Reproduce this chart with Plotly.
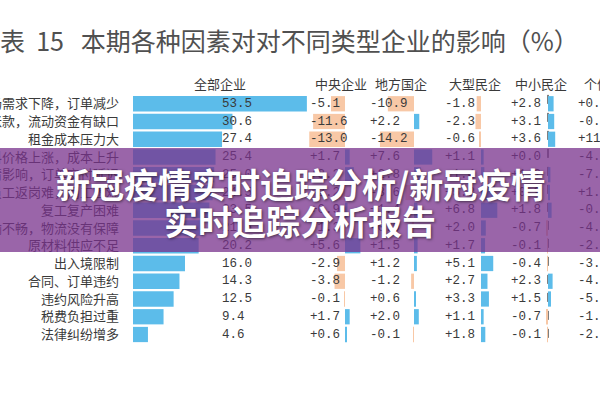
import plotly.graph_objects as go

# ---------------- data ----------------
rows = ["市场需求下降，订单减少", "应收账款，流动资金有缺口", "租金成本压力大",
        "原材料价格上涨，成本上升", "受疫情影响，订单交付延迟", "员工返岗难，用工困难",
        "复工复产困难", "交通运输不畅，物流没有保障", "原材料供应不足", "出入境限制",
        "合同、订单违约", "违约风险升高", "税费负担过重", "法律纠纷增多"]
headers = ["全部企业", "中央企业", "地方国企", "大型民企", "中小民企", "个体工商户"]
all_ent = [53.5, 30.6, 27.4, 25.4, 25.0, 24.5, 23.5, 21.6, 20.2, 16.0, 14.3, 12.5, 9.4, 4.6]
central = [-5.1, -11.6, -13.0, 1.7, 3.2, -2.2, 0.9, -1.3, 5.6, -2.9, -3.8, -0.1, 1.7, 0.6]
local_soe = [-10.9, 2.2, -14.2, 7.6, 2.8, -3.6, 1.4, -0.9, 1.5, 1.2, -1.2, 0.6, 2.0, -0.1]
large_private = [-1.8, -2.3, -0.6, 1.1, 1.4, 5.8, 6.8, 2.0, 1.7, 5.1, 2.7, 3.3, 1.1, 1.8]
sme_private = [2.8, 3.1, 3.6, 0.0, 1.2, 0.9, 1.8, -0.7, -0.1, -0.4, 2.3, 1.5, -0.7, -0.1]
individual = [0.4, -0.6, 11.3, -4.5, -7.2, 1.6, -0.3, -4.2, -2.5, -3.1, -4.4, -5.3, -1.2, -2.7]
title = "图表\u00a0\u00a015\u00a0\u00a0\u00a0本期各种因素对对不同类型企业的影响（%）"
banner = ["新冠疫情实时追踪分析/新冠疫情", "实时追踪分析报告"]

# ---------------- layout constants (pixels) ----------------
W, H = 600, 400
BLUE = "#5cbcea"
ORANGE = "#f8c8a6"
TXT = "#3a3a3a"
CJK = "Noto Sans CJK SC"
MONO = "Liberation Mono"

row_y0, row_pitch = 103.75, 17.75
y_top = -row_y0 / row_pitch
y_bot = (H - row_y0) / row_pitch
idx = list(range(len(rows)))

# column geometry: (values, zero px, px per unit, domain px, text x px)
cols = [
    (all_ent, 133, 3.25, (133, 320), 222),
    (central, 345, 2.75, (300, 370), 310),
    (local_soe, 414, 2.4, (372, 440), 370),
    (large_private, 481, 2.4, (458, 506), 445),
    (sme_private, 548, 2.0, (524, 576), 511),
]
text_x = [c[4] for c in cols] + [578]
header_x = [192, 313, 373, 447, 513, 582]

fig = go.Figure()
layout_axes = {}
for k, (vals, z, s, (d0, d1), tx) in enumerate(cols):
    ax = "x" if k == 0 else f"x{k+1}"
    axname = "xaxis" if k == 0 else f"xaxis{k+1}"
    colors = [BLUE if v >= 0 else ORANGE for v in vals]
    fig.add_trace(go.Bar(x=vals, y=idx, orientation="h", base=0,
                         marker=dict(color=colors, line=dict(width=0)),
                         width=0.86, xaxis=ax, yaxis="y", hoverinfo="skip",
                         showlegend=False))
    layout_axes[axname] = dict(domain=[d0 / W, d1 / W],
                               range=[(d0 - z) / s, (d1 - z) / s],
                               anchor="y", visible=False, fixedrange=True)

# helper pixel axis for value texts
layout_axes["xaxis6"] = dict(domain=[0, 1], range=[0, W], anchor="y",
                             visible=False, fixedrange=True)
all_cols = [all_ent, central, local_soe, large_private, sme_private, individual]
for k, vals in enumerate(all_cols):
    if k == 0:
        txt = [f"{v:.1f}" for v in vals]
    else:
        txt = [f"{v:+.1f}" for v in vals]
    fig.add_trace(go.Scatter(x=[text_x[k]] * len(vals), y=idx, mode="text",
                             text=txt, textposition="middle right",
                             textfont=dict(family=MONO, size=12.5, color=TXT),
                             xaxis="x6", yaxis="y", cliponaxis=False,
                             hoverinfo="skip", showlegend=False))

annotations = []
# title
annotations.append(dict(text=title, x=-27 / W, y=1 - 40 / H, xref="paper", yref="paper",
                        xanchor="left", yanchor="middle", showarrow=False,
                        font=dict(family=CJK, size=25, color="#505050")))
# headers
for hx, h in zip(header_x, headers):
    annotations.append(dict(text=h, x=hx / W, y=1 - 84 / H, xref="paper", yref="paper",
                            xanchor="left", yanchor="middle", showarrow=False,
                            font=dict(family=CJK, size=13, color=TXT)))
# banner
for by, bt in zip([183, 220], banner):
    annotations.append(dict(text=f"<b>{bt}</b>", x=0.5, y=1 - by / H, xref="paper",
                            yref="paper", xanchor="center", yanchor="middle",
                            showarrow=False,
                            font=dict(family=CJK, size=34, color="white",
                                      shadow="1px 1px 3px rgba(0,0,0,0.55)")))

shapes = [
    dict(type="line", xref="x5", yref="y", x0=0, x1=0, y0=-0.5, y1=13.5,
         line=dict(color="black", width=1, dash="dash"), layer="below"),
    dict(type="rect", xref="paper", yref="paper", x0=0, x1=1,
         y0=1 - 252 / H, y1=1 - 148 / H, fillcolor="rgba(120,50,140,0.75)",
         line=dict(width=0), layer="above"),
]

fig.update_layout(
    template="none",
    width=W, height=H,
    margin=dict(l=0, r=0, t=0, b=0),
    paper_bgcolor="white", plot_bgcolor="rgba(0,0,0,0)",
    barmode="overlay",
    yaxis=dict(range=[y_bot, y_top], tickvals=idx, ticktext=rows,
               tickfont=dict(family=CJK, size=13, color=TXT),
               anchor="x", ticklabelstandoff=13, showgrid=False, zeroline=False,
               showline=False, ticks="", automargin=False, fixedrange=True),
    annotations=annotations,
    shapes=shapes,
    **layout_axes,
)

fig.write_html("out.html", config={"displayModeBar": False},
               post_script="document.body.style.margin='0';document.body.style.overflow='hidden';")
